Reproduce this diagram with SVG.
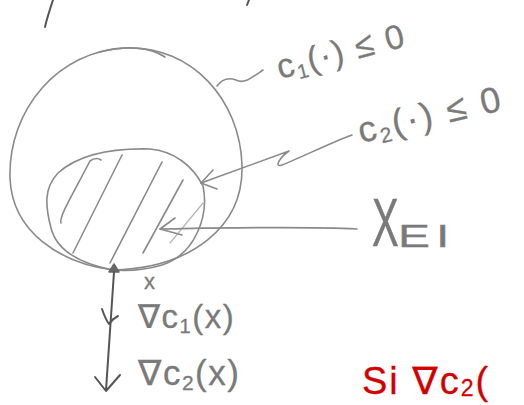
<svg xmlns="http://www.w3.org/2000/svg" width="524" height="405" viewBox="0 0 524 405">
<style>
.pen{fill:none;stroke:#8a8a8a;stroke-width:1.6;stroke-linecap:round;stroke-linejoin:round}
.dark{fill:none;stroke:#555;stroke-width:2;stroke-linecap:round;stroke-linejoin:round}
.faint{fill:none;stroke:#b5b5b5;stroke-width:1.2;stroke-linecap:round}
.lbl{font-family:"Liberation Sans","DejaVu Sans",sans-serif;fill:#7a7a7a;stroke:#7a7a7a;stroke-width:0.3}
.red{font-family:"Liberation Sans","DejaVu Sans",sans-serif;fill:#d40000;stroke:#d40000;stroke-width:0.3}
</style>
<rect width="524" height="405" fill="#fff"/>
<g id="marks">
<path class="dark" d="M45,27 C47,18 50,9 53,0"/>
<path class="dark" d="M249,0 L247,5"/>
</g>
<g id="outer-set">
<path class="pen" d="M113,270 C60,263 12,232 10,178 C8,110 58,50 127,48 C192,46 240,100 242,165 C244,226 192,268 113,270"/>
<path class="pen" d="M100,52 C125,45 150,47 165,57"/>
</g>
<g id="inner-set">
<path class="pen" d="M113,270 C82,264 57,252 51,228 C45,205 44,188 58,173 C78,155 110,148 150,149 C174,151 193,166 203,186 C209,215 196,254 162,265 C142,271 126,271 113,270"/>
<path class="pen" d="M61,223 C58,218 75,190 90,161 C94,158 98,158 101,160"/>
<path class="pen" d="M73,253 L122,155"/>
<path class="pen" d="M110,263 L162,162"/>
<path class="pen" d="M143,253 L183,180"/>
<path class="faint" d="M170,243 L203,203"/>
</g>
<g id="point-x">
<path d="M109,272 L114,264 L119,272 Z" fill="#666" stroke="#666" stroke-width="1.5" stroke-linejoin="round"/>
</g>
<g id="connectors">
<path class="pen" d="M217,86 C222,79 228,77 236,80 C244,84 250,79 263,70"/>
<path class="pen" d="M352,135 C330,143 300,158 282,165 C274,168 279,158 289,151 L201,183"/>
<path class="pen" d="M213,170 L201,183 L217,189"/>
<path class="pen" d="M357,229 C300,226 220,228 160,229"/>
<path class="pen" d="M175,218 L160,229 L182,235"/>
<path class="dark" d="M114,272 L106,390"/>
<path class="dark" d="M102,309 C104,315 106,320 109,324 M118,316 C114,318 111,321 109,324"/>
<path class="dark" d="M95,377 L106,391 L120,375"/>
</g>
<g id="label-c1">
<text class="lbl" font-size="34" letter-spacing="1.5" transform="translate(280,79) rotate(-14.5)">c<tspan font-size="20" dy="5">1</tspan><tspan dy="-5">(·) ≤ 0</tspan></text>
</g>
<g id="label-c2">
<text class="lbl" font-size="36" letter-spacing="2.5" transform="translate(361,143) rotate(-13)">c<tspan font-size="21" dy="5">2</tspan><tspan dy="-5">(·) ≤ 0</tspan></text>
</g>
<g id="label-xei">
<text class="lbl" font-size="40" transform="translate(372,246) scale(1,1.7)">X</text>
<text class="lbl" font-size="32" letter-spacing="4" transform="translate(398,247) scale(1.5,1)">EI</text>
</g>
<g id="label-x">
<text class="lbl" font-size="22" x="144" y="289">x</text>
</g>
<g id="label-grad1">
<text class="lbl" font-size="33" letter-spacing="1.5" x="138" y="328">∇c<tspan font-size="20" dy="5">1</tspan><tspan dy="-5">(x)</tspan></text>
</g>
<g id="label-grad2">
<text class="lbl" font-size="35" letter-spacing="1.5" x="138" y="385">∇c<tspan font-size="21" dy="5">2</tspan><tspan dy="-5">(x)</tspan></text>
</g>
<g id="label-red">
<text class="red" font-size="38" letter-spacing="2" x="362" y="394">Si ∇c<tspan font-size="23" dy="2">2</tspan><tspan dy="-2">(</tspan></text>
</g>
</svg>
